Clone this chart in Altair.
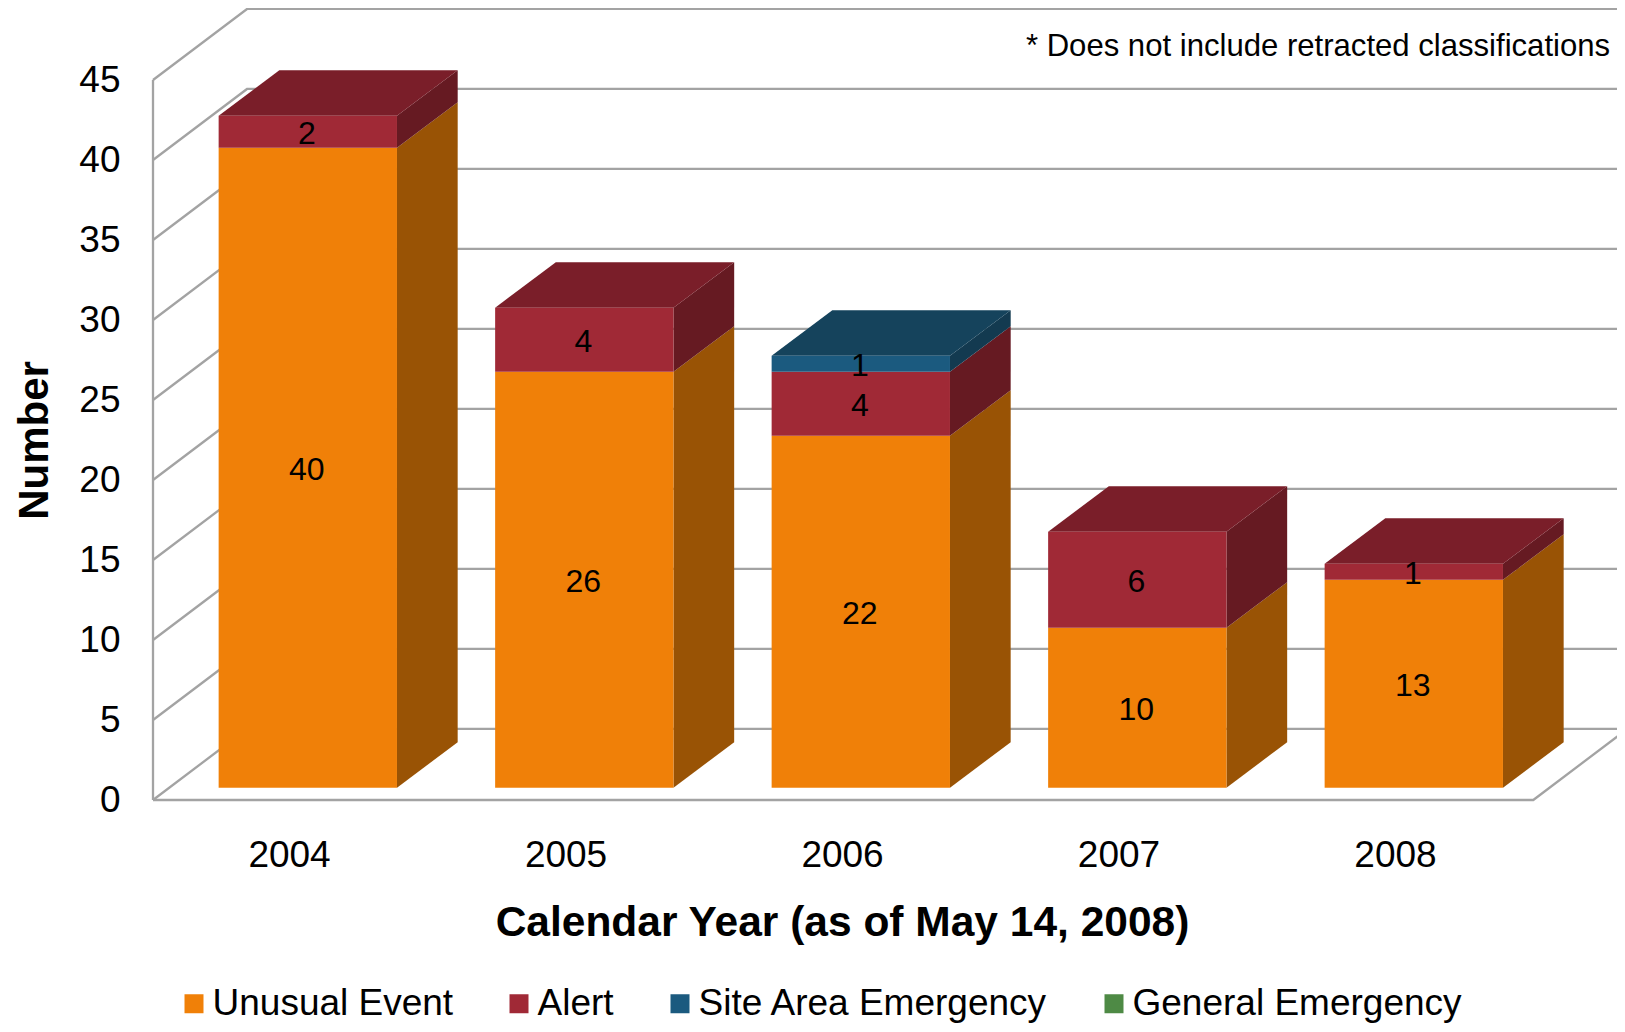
import altair as alt
import pandas as pd

FONT = "Liberation Sans"
years = [2004, 2005, 2006, 2007, 2008]
series = ["Unusual Event", "Alert", "Site Area Emergency", "General Emergency"]
unusual = [40, 26, 22, 10, 13]
alert = [2, 4, 4, 6, 1]
site = [0, 0, 1, 0, 0]
general = [0, 0, 0, 0, 0]
front_colors = ["#F08008", "#A02936", "#1B5A7F", "#4E8A45"]
top_colors = ["#A85808", "#7A1E29", "#15435C", "#3A6A34"]
side_colors = ["#995305", "#661A22", "#133A50", "#2F5A2B"]
y_ticks = [0, 5, 10, 15, 20, 25, 30, 35, 40, 45]
note = "* Does not include retracted classifications"

# projection of the pseudo-3D box, in data units
x_start, x_end = 2003.508, 2008.8028
y_top = 49.5
wall_dx, wall_dy = 0.34, 4.44
bar_off, bar_w, bar_base = -0.2546, 0.645, 0.77
depth_dx, depth_dy = 0.2195, 2.84
grid_color = "#A3A3A3"

xs = alt.Scale(domain=[x_start, x_end], nice=False, zero=False)
ys = alt.Scale(domain=[0, y_top], nice=False, zero=False)
x_axis = alt.Axis(
    values=years, format="d", grid=False, ticks=False, domain=False,
    labelFont=FONT, labelFontSize=37, labelColor="#000", labelPadding=37, labelFlush=False,
    titleFont=FONT, titleFontSize=42.5, titleFontWeight="bold", titleColor="#000",
    titleX=689, titleY=135, titleBaseline="alphabetic", titleAlign="center")
y_axis = alt.Axis(
    values=y_ticks, grid=False, ticks=False, domain=False,
    labelFont=FONT, labelFontSize=37, labelColor="#000", labelPadding=33,
    titleFont=FONT, titleFontSize=42, titleFontWeight="bold", titleColor="#000",
    titleX=-106, titleY=432, titleBaseline="alphabetic", titleAlign="center", titleAngle=-90)
X = lambda f: alt.X(f, type="quantitative", scale=xs, axis=x_axis, title="Calendar Year (as of May 14, 2008)")
Y = lambda f: alt.Y(f, type="quantitative", scale=ys, axis=y_axis, title="Number", stack=None)

# gridlines
grid = []
for v in y_ticks:
    pts = [(x_start, v), (x_start + wall_dx, v + wall_dy), (x_end + 0.1, v + wall_dy)]
    for i, (a, b) in enumerate(pts):
        grid.append(dict(id=f"g{v}", seq=i, x=a, y=b))
floor_x = 2008.5
for i, (a, b) in enumerate([(x_start, 0), (floor_x, 0), (floor_x + wall_dx, wall_dy)]):
    grid.append(dict(id="floor", seq=i, x=a, y=b))
for i, (a, b) in enumerate([(x_start, 0), (x_start, 45)]):
    grid.append(dict(id="wall", seq=i, x=a, y=b))

front, faces, labels = [], [], []
stacks = [unusual, alert, site, general]
for k, yr in enumerate(years):
    xl = yr + bar_off
    xr = xl + bar_w
    base = 0
    segs = [(s, stacks[j][k], j) for j, s in enumerate(series) if stacks[j][k] > 0]
    for n, (name, val, j) in enumerate(segs):
        v0, v1 = base + bar_base, base + val + bar_base
        front.append(dict(series=name, x=xl, x2=xr, y=v0, y2=v1))
        labels.append(dict(x=(xl + xr) / 2, y=(v0 + v1) / 2, t=str(val)))
        faces.append(dict(id=f"s{k}{j}", x=xr, y=v0, y2=v1, fill=side_colors[j]))
        faces.append(dict(id=f"s{k}{j}", x=xr + depth_dx, y=v0 + depth_dy, y2=v1 + depth_dy, fill=side_colors[j]))
        if n == len(segs) - 1:
            t = v1
            d = t + depth_dy
            for a, b, c in [(xl, t, t), (xl + depth_dx, t, d), (xr, t, d), (xr + depth_dx, d, d)]:
                faces.append(dict(id=f"t{k}", x=a, y=b, y2=c, fill=top_colors[j]))
        base += val

grid_layer = alt.Chart(pd.DataFrame(grid)).mark_line(color=grid_color, strokeWidth=2.3).encode(
    x=X("x"), y=Y("y"), detail="id:N", order="seq:Q")

face_layer = alt.Chart(pd.DataFrame(faces)).mark_area(opacity=1).encode(
    x=X("x"), y=Y("y"), y2="y2:Q", detail="id:N",
    fill=alt.Fill("fill:N", scale=None, legend=None))

front_layer = alt.Chart(pd.DataFrame(front)).mark_rect(opacity=1).encode(
    x=X("x"), x2="x2:Q", y=Y("y"), y2="y2:Q",
    color=alt.Color("series:N", scale=alt.Scale(domain=series, range=front_colors), legend=alt.Legend(
        title=None, orient="none", legendX=22.5, legendY=977, direction="horizontal", columns=4,
        columnPadding=47, symbolType="square", symbolSize=361, symbolStrokeWidth=0, symbolOpacity=1,
        labelFont=FONT, labelFontSize=37, labelColor="#000", labelOffset=0, labelLimit=700, padding=0)))

label_layer = alt.Chart(pd.DataFrame(labels)).mark_text(font=FONT, fontSize=32, color="#000", dy=2, dx=-1).encode(
    x=X("x"), y=Y("y"), text="t:N")

note_layer = alt.Chart(pd.DataFrame({"x": [2006.665], "y": [47.05], "t": [note]})).mark_text(
    font=FONT, fontSize=31.1, color="#000", align="left", baseline="middle").encode(
    x=X("x"), y=Y("y"), text="t:N")

chart = alt.layer(grid_layer, face_layer, front_layer, label_layer, note_layer).properties(
    width=1464, height=792,
    autosize=alt.AutoSizeParams(type="none"),
    padding={"left": 145, "top": 0, "right": 0, "bottom": 224},
).configure_view(stroke=None)

chart.save("out.html", embed_options={"renderer": "svg", "actions": False})
